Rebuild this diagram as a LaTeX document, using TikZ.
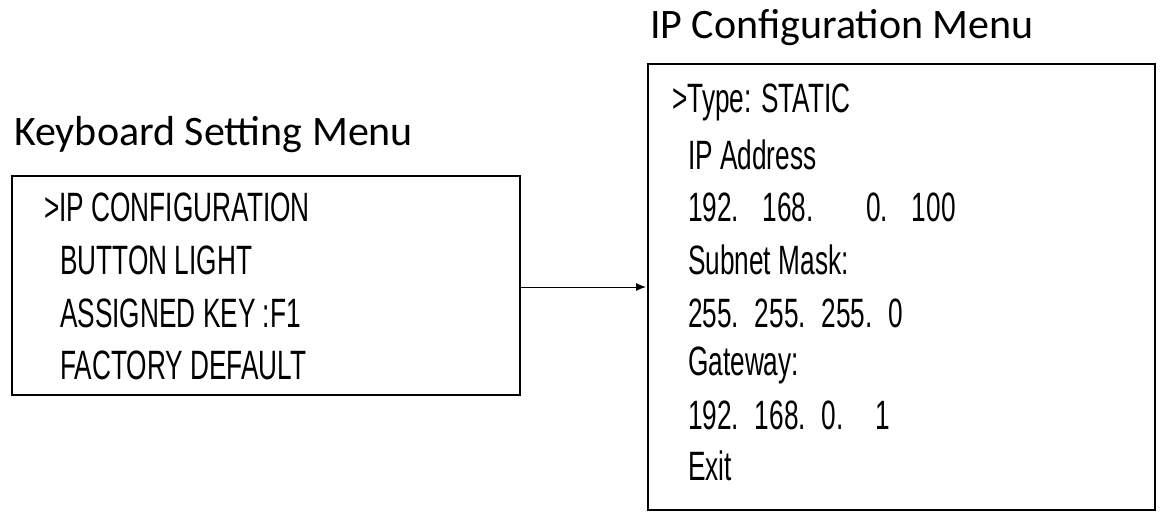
\documentclass[tikz,border=0pt]{standalone}
\usepackage{fontspec}
\setmainfont{Carlito}
\newfontfamily\menufont{Liberation Sans}
\usetikzlibrary{positioning,arrows.meta}
\tikzset{
  menubox/.style={draw, line width=1.2pt},
  title/.style={anchor=west, inner sep=0pt, font=\fontsize{42}{44}\selectfont},
  menuline/.style={anchor=west, inner sep=0pt, font=\menufont\fontsize{41}{43}\selectfont, xscale=0.64}
}
\begin{document}
\begin{tikzpicture}[x=1pt,y=-1pt]
  \useasboundingbox (0,0) rectangle (1165,517);
  % titles
  \node[title] (kbtitle) at (14,135) {Keyboard Setting Menu};
  \node[title] (iptitle) at (650,28) {IP Configuration Menu};
  % boxes
  \draw[menubox] (12,176) rectangle (520,395);
  \draw[menubox] (648,64) rectangle (1155,510);
  \coordinate (kbright) at (520,287);
  \coordinate (ipleft) at (646,287);
  % keyboard menu
  \node[menuline] (kb1) at (44,207) {>IP CONFIGURATION};
  \node[menuline] (kb2) at (60,260) {BUTTON LIGHT};
  \node[menuline] (kb3) at (60,313) {ASSIGNED KEY :F1};
  \node[menuline] (kb4) at (60,365) {FACTORY DEFAULT};
  % ip menu
  \node[menuline] (ip1) at (672,102) {>Type: STATIC};
  \node[menuline] (ip2) at (688,155) {IP Address};
  \node[menuline] (ip3) at (688,207) {192.\hspace{0.9em}168.\hspace{2em}0.\hspace{0.9em}100};
  \node[menuline] (ip4) at (688,260) {Subnet Mask:};
  \node[menuline] (ip5) at (688,313) {255.\hspace{0.6em}255.\hspace{0.6em}255.\hspace{0.6em}0};
  \node[menuline] (ip6) at (688,365) {Gateway:};
  \node[menuline] (ip7) at (688,415) {192.\hspace{0.6em}168.\hspace{0.6em}0.\hspace{1.2em}1};
  \node[menuline] (ip8) at (688,466) {Exit};
  % arrow
  \draw[line width=1pt, -{Latex[length=10pt,width=8pt]}] (kbright) -- (ipleft);
\end{tikzpicture}
\end{document}
